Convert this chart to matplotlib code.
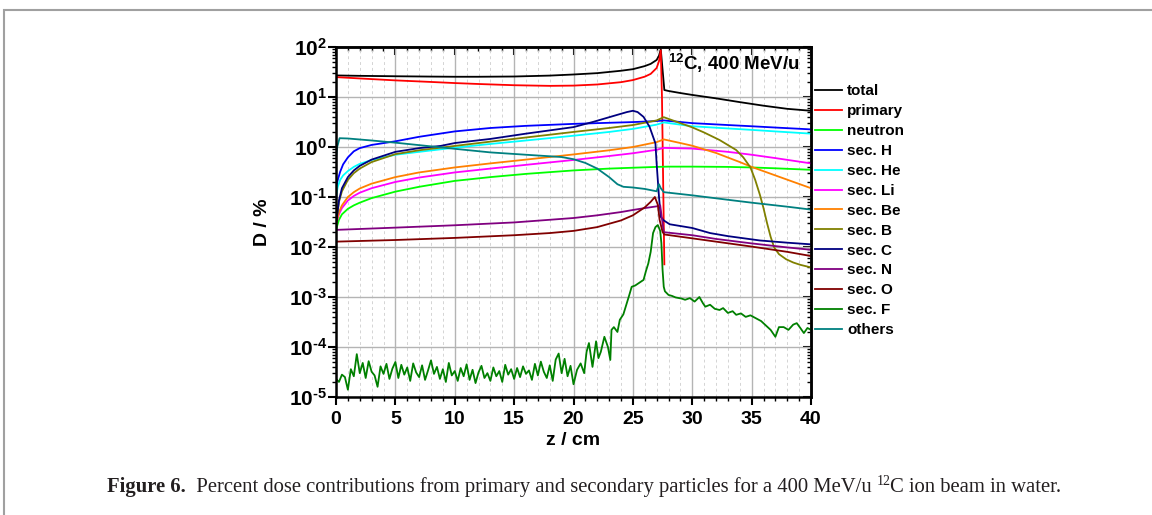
import numpy as np
import matplotlib
matplotlib.use('Agg')
import matplotlib.pyplot as plt
from matplotlib.ticker import MultipleLocator, LogLocator, FuncFormatter, NullFormatter
from matplotlib.patches import Rectangle

plt.rcParams['font.family'] = ['Liberation Sans', 'DejaVu Sans']
plt.rcParams['font.weight'] = 'bold'
plt.rcParams['mathtext.fontset'] = 'custom'
plt.rcParams['mathtext.rm'] = 'Liberation Sans:bold'
plt.rcParams['mathtext.bf'] = 'Liberation Sans:bold'
plt.rcParams['mathtext.it'] = 'Liberation Sans:bold:italic'
plt.rcParams['mathtext.default'] = 'bf'

# depth z (cm) and dose contributions D (%)
z_total = [0, 2, 5, 8, 10, 12, 15, 18, 20, 22, 24, 25, 26, 26.5, 27, 27.2, 27.35, 27.5, 27.65,
           28, 29, 30, 32, 34, 36, 38, 40]
total = [27, 26.5, 26, 25.6, 25.4, 25.4, 25.7, 26.8, 28.2, 30, 33.5, 36, 41.5, 46, 55, 67, 90, 35, 13.8,
         13.2, 12, 11, 9.4, 7.9, 6.7, 5.8, 5.3]

z_prim = [0, 2, 5, 8, 10, 12, 15, 18, 20, 22, 24, 25, 26, 26.5, 27, 27.2, 27.35, 27.45, 27.55, 27.65]
primary = [25, 23.5, 21.5, 20, 19, 18.2, 17.2, 16.7, 16.9, 17.8, 19.8, 21.8, 25.5, 29, 38, 52, 86, 10, 0.2, 0.0045]

z_neut = [0, 0.25, 0.5, 1, 1.5, 2, 3, 5, 7, 10, 13, 16, 20, 23, 25, 27, 28, 30, 33, 35, 37, 40]
neutron = [0.022, 0.035, 0.045, 0.058, 0.068, 0.077, 0.095, 0.128, 0.16, 0.21, 0.25, 0.29, 0.34, 0.37,
           0.385, 0.40, 0.405, 0.405, 0.40, 0.39, 0.375, 0.35]

z_h = [0, 0.15, 0.35, 0.6, 1, 1.5, 2, 3, 5, 7, 10, 13, 16, 20, 23, 25, 27, 27.6, 30, 33, 35, 37, 40]
sec_H = [0.15, 0.22, 0.32, 0.45, 0.62, 0.82, 0.95, 1.1, 1.3, 1.6, 2.05, 2.4, 2.65, 2.9, 3.05, 3.15, 3.3,
         3.4, 3.0, 2.75, 2.6, 2.45, 2.25]

z_he = [0, 0.15, 0.35, 0.6, 1, 1.5, 2, 3, 5, 7, 10, 13, 16, 20, 23, 25, 27, 27.6, 30, 33, 35, 37, 40]
sec_He = [0.1, 0.16, 0.22, 0.27, 0.33, 0.4, 0.46, 0.55, 0.7, 0.8, 0.97, 1.15, 1.35, 1.68, 2.0, 2.3, 2.8,
          3.1, 2.6, 2.35, 2.2, 2.05, 1.85]

z_li = [0, 0.25, 0.5, 1, 1.5, 2, 3, 5, 7, 10, 13, 16, 20, 23, 25, 27, 27.6, 30, 33, 35, 37, 40]
sec_Li = [0.028, 0.045, 0.06, 0.085, 0.105, 0.122, 0.15, 0.2, 0.245, 0.31, 0.37, 0.44, 0.55, 0.66, 0.75,
          0.88, 0.96, 0.93, 0.8, 0.7, 0.6, 0.47]

z_be = [0, 0.25, 0.5, 1, 1.5, 2, 3, 5, 7, 10, 13, 16, 20, 23, 25, 27, 27.6, 29, 30, 32, 34, 35, 37, 40]
sec_Be = [0.028, 0.05, 0.068, 0.1, 0.125, 0.148, 0.185, 0.25, 0.31, 0.39, 0.47, 0.56, 0.71, 0.86, 1.0,
          1.25, 1.42, 1.2, 1.06, 0.76, 0.5, 0.4, 0.27, 0.15]

z_b = [0, 0.25, 0.5, 1, 1.5, 2, 3, 5, 7, 10, 13, 16, 20, 23, 25, 27, 27.6, 29, 30, 31, 32.3, 33.7,
       34.3, 34.9, 35.3, 35.7, 36.0, 36.3, 36.6, 36.9, 37.3, 37.9, 38.5, 39.1, 40]
sec_B = [0.028, 0.08, 0.13, 0.22, 0.3, 0.37, 0.5, 0.72, 0.86, 1.05, 1.28, 1.55, 2.0, 2.4, 2.75, 3.4,
         3.95, 3.0, 2.47, 1.95, 1.38, 0.87, 0.62, 0.39, 0.22, 0.11, 0.06, 0.03, 0.016, 0.0098, 0.0072,
         0.0057, 0.0049, 0.0044, 0.0039]

z_c = [0, 0.25, 0.5, 1, 1.5, 2, 3, 5, 7, 8.8, 10, 13, 16, 18, 20, 21.7, 23.4, 24.5, 25.0, 25.4, 25.9,
       26.4, 26.9, 27.0, 27.2, 27.35, 27.6, 28.1, 30, 31.5, 33, 35.7, 38, 40]
sec_C = [0.028, 0.085, 0.15, 0.25, 0.34, 0.42, 0.56, 0.8, 0.95, 1.05, 1.2, 1.45, 1.85, 2.15, 2.5, 3.2,
         4.2, 5.0, 5.3, 5.0, 4.0, 2.55, 1.18, 0.47, 0.1, 0.04, 0.034, 0.0285, 0.024, 0.019, 0.0165,
         0.0135, 0.0122, 0.0113]

z_n = [0, 5, 10, 15, 20, 22, 24, 25, 26, 27.0, 27.3, 27.5, 27.6, 30, 32, 35, 38, 40]
sec_N = [0.022, 0.0244, 0.0272, 0.031, 0.038, 0.043, 0.05, 0.055, 0.06, 0.065, 0.068, 0.03, 0.0198,
         0.0172, 0.0145, 0.0118, 0.0098, 0.0088]

z_o = [0, 5, 10, 15, 18, 20, 22, 24, 25, 26, 26.5, 26.85, 27.1, 27.25, 27.5, 27.65, 30, 32, 35, 38, 40]
sec_O = [0.0128, 0.0138, 0.0152, 0.0172, 0.019, 0.021, 0.025, 0.034, 0.043, 0.062, 0.08, 0.1, 0.07,
         0.035, 0.02, 0.0178, 0.0149, 0.0128, 0.0102, 0.008, 0.0066]

# sec. F, in units of 1e-5 %: noisy plateau (every 0.25 cm up to 19.75 cm), then peak and tail
f_plateau = [2.3, 2.0, 2.8, 2.5, 1.4, 3.6, 2.6, 7.2, 3.0, 4.8,
             2.4, 5.2, 3.2, 2.7, 1.6, 4.1, 2.9, 4.6, 2.3, 3.7,
             5.0, 2.4, 4.4, 2.8, 3.9, 2.1, 4.7, 3.1, 2.5, 4.3,
             2.2, 3.4, 5.4, 2.9, 4.0, 2.3, 3.6, 2.0, 4.8, 2.7,
             3.3, 2.1, 3.8, 2.6, 4.5, 2.2, 3.5, 1.9, 3.1, 4.2,
             2.4, 3.0, 2.1, 3.9, 2.6, 3.3, 2.0, 4.4, 2.8, 3.6,
             2.3, 3.8, 2.5, 4.1, 2.9, 3.4, 2.2, 4.6, 2.7, 5.1,
             3.2, 2.4, 4.3, 2.1, 5.6, 7.4, 3.0, 5.8, 2.6, 4.2]
z_f_tail = [20.0, 20.3, 20.6, 20.9, 21.1, 21.3, 21.6, 21.9, 22.1, 22.3,
            22.6, 22.9, 23.1, 23.2, 23.4, 23.7, 23.9, 24.2, 24.4, 24.7,
            24.9, 25.2, 25.5, 25.9, 26.1, 26.3, 26.5, 26.7, 26.9, 27.1,
            27.3, 27.4, 27.5, 27.6, 27.7, 28.0, 28.3, 28.6, 29.1, 29.4,
            29.8, 30.2, 30.6, 30.9, 31.1, 31.5, 31.9, 32.3, 32.6, 33.0,
            33.4, 33.7, 34.1, 34.5, 34.9, 35.4, 35.8, 36.2, 36.6, 37.0,
            37.3, 37.7, 38.1, 38.5, 38.8, 39.1, 39.4, 39.7, 40.0]
f_tail = [1.8, 3.5, 4.7, 3.0, 8.0, 12, 4.0, 13, 6.0, 8.0,
          16, 10, 5.5, 22, 25, 20, 35, 45, 64, 110,
          160, 170, 190, 220, 330, 470, 800, 1900, 2500, 2750,
          2100, 1200, 350, 160, 130, 110, 105, 98, 93, 88,
          95, 81, 100, 75, 64, 70, 58, 55, 60, 48,
          52, 44, 47, 40, 43, 37, 33, 27, 22, 16,
          25, 25, 22, 28, 30, 24, 19, 24, 22]
z_f = np.concatenate([np.arange(0, 20, 0.25), z_f_tail])
sec_F = np.array(f_plateau + f_tail) * 1e-5

z_oth = [0, 0.1, 0.3, 1, 3, 5, 8, 10, 13, 16, 19, 20, 21, 22, 23, 23.7, 24.2, 25, 26, 27, 27.2, 27.35,
         27.6, 30, 33, 35, 38, 40]
others = [0.6, 1.0, 1.5, 1.48, 1.35, 1.22, 1.03, 0.92, 0.78, 0.7, 0.63, 0.57, 0.48, 0.37, 0.25, 0.18,
          0.16, 0.155, 0.145, 0.13, 0.18, 0.15, 0.125, 0.108, 0.088, 0.077, 0.064, 0.056]

series = [
    ('total', z_total, total, '#000000'),
    ('primary', z_prim, primary, '#ff0000'),
    ('neutron', z_neut, neutron, '#00ff00'),
    ('sec. H', z_h, sec_H, '#0000ff'),
    ('sec. He', z_he, sec_He, '#00ffff'),
    ('sec. Li', z_li, sec_Li, '#ff00ff'),
    ('sec. Be', z_be, sec_Be, '#ff8000'),
    ('sec. B', z_b, sec_B, '#808000'),
    ('sec. C', z_c, sec_C, '#000080'),
    ('sec. N', z_n, sec_N, '#800080'),
    ('sec. O', z_o, sec_O, '#800000'),
    ('sec. F', z_f, sec_F, '#008000'),
    ('others', z_oth, others, '#008080'),
]

fig = plt.figure(figsize=(11.52, 5.15), dpi=100)
ax = fig.add_axes([336 / 1152, 1 - 397 / 515, 475 / 1152, 350 / 515])

for label, z, d, color in series:
    ax.plot(z, d, color=color, lw=1.3, label=label)

ax.set_yscale('log')
ax.set_xlim(0, 40)
ax.set_ylim(1e-5, 1e2)

# ticks
ax.xaxis.set_major_locator(MultipleLocator(5))
ax.xaxis.set_minor_locator(MultipleLocator(1))
ax.yaxis.set_major_locator(LogLocator(base=10, numticks=12))
ax.yaxis.set_minor_locator(LogLocator(base=10, subs=np.arange(2, 10), numticks=12))
ax.yaxis.set_minor_formatter(NullFormatter())
ax.yaxis.set_major_formatter(FuncFormatter(lambda v, p: r'$10^{\text{%d}}$' % round(np.log10(v))))
ax.tick_params(which='major', direction='out', length=6, width=1.5, pad=0.5)
ax.tick_params(which='minor', direction='out', length=3, width=1)
ax.tick_params(axis='x', which='major', pad=4, labelsize=14)
ax.tick_params(axis='y', which='major', labelsize=15)

secx = ax.secondary_xaxis('top')
secx.xaxis.set_major_locator(MultipleLocator(5))
secx.xaxis.set_minor_locator(MultipleLocator(1))
secx.tick_params(which='major', direction='in', length=6, width=1.5, labeltop=False)
secx.tick_params(which='minor', direction='in', length=3, width=1)
secy = ax.secondary_yaxis('right')
secy.yaxis.set_major_locator(LogLocator(base=10, numticks=12))
secy.yaxis.set_minor_locator(LogLocator(base=10, subs=np.arange(2, 10), numticks=12))
secy.yaxis.set_major_formatter(NullFormatter())
secy.yaxis.set_minor_formatter(NullFormatter())
secy.tick_params(which='major', direction='in', length=6, width=1.5)
secy.tick_params(which='minor', direction='in', length=3, width=1)

for a in (ax, secx, secy):
    for sp in a.spines.values():
        sp.set_linewidth(1.8)

# grid
ax.grid(which='major', color='#b4b4b4', lw=1.0)
ax.xaxis.grid(which='minor', color='#d4d4d4', lw=0.7, ls=(0, (3, 3)))
ax.set_axisbelow(True)

ax.set_xlabel('z / cm', fontsize=14, fontweight='bold', labelpad=3)
ax.set_ylabel('D / %', fontsize=14, fontweight='bold')
ax.yaxis.set_label_coords(-0.137, 0.5)

ax.text(0.977, 0.985, r'$^{12}$C, 400 MeV/u', transform=ax.transAxes, ha='right', va='top',
        fontsize=13.5, fontweight='bold')

ax.legend(loc='upper left', bbox_to_anchor=(1.008, 0.893), frameon=False, fontsize=11,
          handlelength=1.8, handletextpad=0.3, labelspacing=0.385, borderpad=0, borderaxespad=0)

# page frame
fig.add_artist(Rectangle((4 / 1152, -0.1), 1.2, 1.1 - 10 / 515, transform=fig.transFigure,
                         fill=False, ec='#a0a0a0', lw=1.5))

# caption
cap = dict(fontfamily=['Liberation Serif', 'DejaVu Serif'], fontsize=14.9, color='#231f20')
t1 = fig.text(107 / 1152, 1 - 492 / 515, 'Figure 6.', fontweight='bold', va='baseline', **cap)
t2 = ax.annotate('  Percent dose contributions from primary and secondary particles for a 400 MeV/u ',
                 xy=(1, 0), xycoords=t1, va='bottom', fontweight='normal', **cap)
cap_sup = dict(cap, fontsize=10)
t3 = ax.annotate('12', xy=(1, 0), xycoords=t2, xytext=(0, 6.5), textcoords='offset points',
                 va='bottom', fontweight='normal', **cap_sup)
ax.annotate('C ion beam in water.', xy=(1, 0), xycoords=t3, xytext=(0, -6.5), textcoords='offset points',
            va='bottom', fontweight='normal', **cap)

fig.savefig('out.png', dpi=100)
